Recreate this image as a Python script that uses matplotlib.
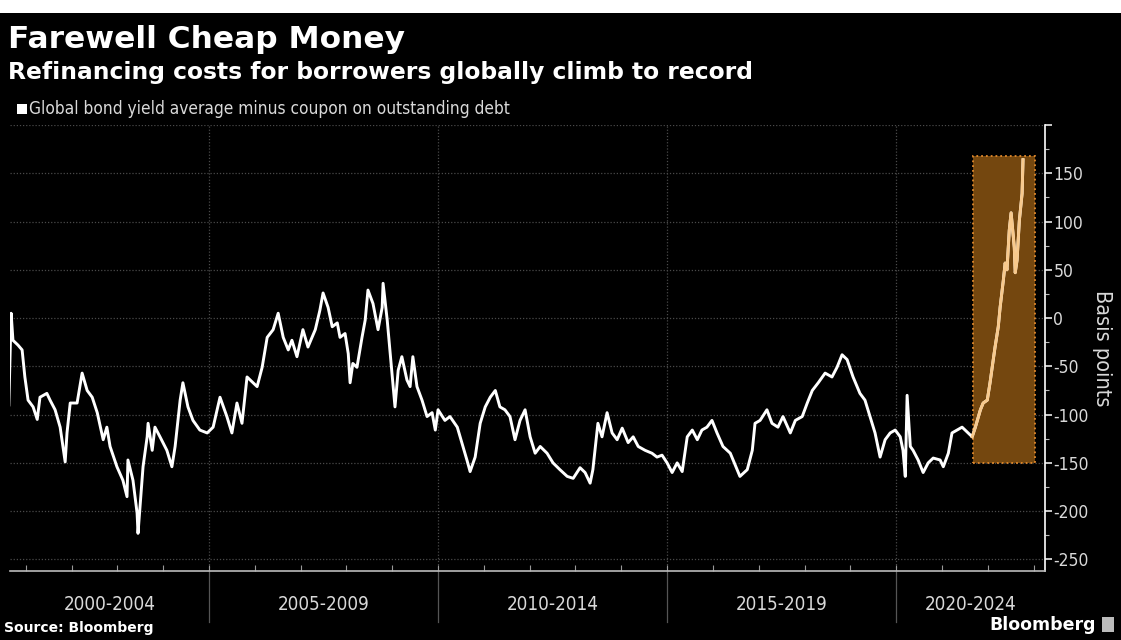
import matplotlib
matplotlib.use("Agg")
import matplotlib.pyplot as plt
import matplotlib.transforms as mtransforms
from matplotlib.patches import Rectangle
import numpy as np

# global bond yield average minus coupon on outstanding debt (bp), by decimal year
years = [
    2000.63, 2000.68, 2000.72, 2000.83, 2000.92, 2000.98, 2001.05, 2001.16, 2001.25, 2001.31,
    2001.46, 2001.53, 2001.64, 2001.75, 2001.86, 2001.90, 2001.97, 2002.12, 2002.23, 2002.34,
    2002.45, 2002.56, 2002.69, 2002.77, 2002.84, 2002.99, 2003.12, 2003.21, 2003.23, 2003.34,
    2003.43, 2003.45, 2003.56, 2003.65, 2003.67, 2003.76, 2003.82, 2003.93, 2004.08, 2004.19,
    2004.26, 2004.37, 2004.43, 2004.54, 2004.65, 2004.80, 2004.96, 2005.09, 2005.24, 2005.39,
    2005.50, 2005.61, 2005.72, 2005.83, 2005.96, 2006.05, 2006.16, 2006.27, 2006.40, 2006.51,
    2006.62, 2006.73, 2006.81, 2006.92, 2007.05, 2007.16, 2007.32, 2007.42, 2007.49, 2007.60,
    2007.69, 2007.80, 2007.86, 2007.97, 2008.04, 2008.08, 2008.14, 2008.23, 2008.34, 2008.41,
    2008.47, 2008.58, 2008.69, 2008.78, 2008.80, 2008.89, 2009.00, 2009.06, 2009.13, 2009.21,
    2009.32, 2009.39, 2009.45, 2009.54, 2009.65, 2009.76, 2009.87, 2009.94, 2010.00, 2010.15,
    2010.26, 2010.42, 2010.52, 2010.63, 2010.70, 2010.81, 2010.92, 2011.03, 2011.14, 2011.25,
    2011.35, 2011.46, 2011.57, 2011.68, 2011.79, 2011.90, 2012.01, 2012.12, 2012.23, 2012.38,
    2012.51, 2012.66, 2012.82, 2012.95, 2013.10, 2013.21, 2013.32, 2013.38, 2013.49, 2013.58,
    2013.69, 2013.80, 2013.91, 2014.02, 2014.15, 2014.26, 2014.37, 2014.52, 2014.67, 2014.78,
    2014.89, 2015.00, 2015.11, 2015.22, 2015.33, 2015.44, 2015.55, 2015.66, 2015.76, 2015.87,
    2015.98, 2016.09, 2016.22, 2016.38, 2016.53, 2016.59, 2016.75, 2016.86, 2016.92, 2017.03,
    2017.18, 2017.29, 2017.42, 2017.53, 2017.69, 2017.80, 2017.95, 2018.06, 2018.17, 2018.30,
    2018.45, 2018.60, 2018.71, 2018.82, 2018.93, 2019.06, 2019.21, 2019.32, 2019.43, 2019.54,
    2019.65, 2019.76, 2019.87, 2019.98, 2020.09, 2020.15, 2020.20, 2020.24, 2020.31, 2020.37,
    2020.48, 2020.59, 2020.70, 2020.81, 2020.96, 2021.03, 2021.14, 2021.22, 2021.33, 2021.44,
    2021.55, 2021.66, 2021.73, 2021.84, 2021.90, 2021.99, 2022.05, 2022.12, 2022.16, 2022.23,
    2022.27, 2022.34, 2022.38, 2022.42, 2022.47, 2022.51, 2022.56, 2022.58, 2022.60, 2022.64,
    2022.69, 2022.75, 2022.77,
]
spread = [
    -90, 5, -23, -28, -33, -61, -85, -92, -105, -82,
    -78, -85, -95, -113, -149, -119, -88, -88, -57, -75,
    -82, -98, -126, -113, -133, -154, -168, -185, -147, -168,
    -202, -223, -154, -123, -109, -137, -113, -123, -137, -154,
    -133, -85, -67, -92, -106, -116, -119, -113, -82, -102,
    -119, -88, -109, -61, -67, -71, -51, -20, -12, 5,
    -20, -33, -23, -40, -12, -30, -12, 8, 26, 11,
    -9, -5, -20, -16, -37, -67, -47, -51, -20, -2,
    29, 15, -12, 11, 36, -2, -61, -92, -54, -40,
    -64, -71, -40, -71, -85, -102, -98, -116, -95, -106,
    -102, -113, -129, -147, -159, -144, -109, -92, -82, -75,
    -92, -95, -102, -126, -106, -95, -123, -140, -133, -140,
    -150, -157, -164, -166, -155, -160, -171, -157, -109, -123,
    -98, -119, -126, -114, -129, -123, -133, -137, -140, -144,
    -142, -150, -160, -150, -159, -123, -116, -126, -116, -113,
    -106, -119, -133, -140, -157, -164, -157, -137, -109, -106,
    -95, -109, -113, -102, -119, -106, -102, -88, -75, -67,
    -57, -61, -51, -38, -43, -61, -78, -85, -102, -119,
    -144, -126, -119, -116, -123, -137, -164, -80, -133, -137,
    -147, -160, -150, -145, -147, -154, -140, -119, -116, -113,
    -118, -123, -113, -95, -88, -85, -67, -43, -30, -9,
    11, 39, 57, 50, 91, 109, 84, 73, 47, 60,
    101, 129, 164,
]

periods = ["2000-2004", "2005-2009", "2010-2014", "2015-2019", "2020-2024"]
period_starts = [2000, 2005, 2010, 2015, 2020]
y_ticks = [-250, -200, -150, -100, -50, 0, 50, 100, 150, 200]

highlight_start = 2021.68
highlight_end = 2023.03
highlight_low, highlight_high = -150, 168

x_min, x_max = 2000.655, 2023.25
y_min, y_max = -262, 200

cond = dict(family="DejaVu Sans", fontstretch="condensed")
txt_col = "#d9d9d9"

fig = plt.figure(figsize=(11.21, 6.40), dpi=100, facecolor="black")
ax = fig.add_axes([0.0089, 0.1078, 0.9233, 0.6969])
ax.set_facecolor("black")

# top white strip
fig.patches.append(Rectangle((0, 1 - 13 / 640), 1, 13 / 640, transform=fig.transFigure,
                             facecolor="white", edgecolor="none"))

years = np.array(years)
spread = np.array(spread)

ax.add_patch(Rectangle((highlight_start, highlight_low), highlight_end - highlight_start,
                       highlight_high - highlight_low, facecolor="#74470f",
                       edgecolor="#e0892c", linestyle=":", linewidth=1.3, zorder=1))

ax.plot(years, spread, color="white", lw=2.1, zorder=3)
hl = years >= highlight_start - 0.1
ax.plot(years[hl], spread[hl], color="#f8c98c", lw=2.1, zorder=4)

ax.set_xlim(x_min, x_max)
ax.set_ylim(y_min, y_max)

# grid
for v in y_ticks:
    ax.axhline(v, color="#4a4a4a", lw=0.9, ls=(0, (1, 1.5)), zorder=0)
for s in period_starts[1:]:
    ax.axvline(s, color="#4a4a4a", lw=0.9, ls=(0, (1, 1.5)), zorder=0)

for side in ["left", "top"]:
    ax.spines[side].set_visible(False)
ax.spines["right"].set_color("white")
ax.spines["bottom"].set_color("#bbbbbb")
ax.spines["right"].set_linewidth(1.2)
ax.spines["bottom"].set_linewidth(1.2)

ax.yaxis.tick_right()
ax.set_yticks(y_ticks)
ax.set_yticklabels([str(v) if v < 200 else "" for v in y_ticks], fontsize=12.5,
                   color=txt_col, **cond)
ax.set_yticks(np.arange(-250, 201, 25), minor=True)
ax.tick_params(axis="y", which="major", direction="out", length=5, width=1.1,
               color="white", pad=1)
ax.tick_params(axis="y", which="minor", direction="out", length=3, width=0.8,
               color="#bbbbbb")
ax.yaxis.set_label_position("right")
ax.set_ylabel("Basis points", rotation=270, fontsize=15.5, color=txt_col,
              labelpad=17, **cond)

ax.set_xticks(np.arange(2001, 2024), minor=True)
ax.set_xticks([])
ax.tick_params(axis="x", which="minor", direction="in", length=4, width=0.8,
               color="#999999")

trans = mtransforms.blended_transform_factory(ax.transData, ax.transAxes)
for s in period_starts[1:]:
    ax.plot([s, s], [0, -0.115], color="#555555", lw=0.9, transform=trans, clip_on=False)
bounds = period_starts[1:] + [x_max]
for name, a, b in zip(periods, [x_min] + period_starts[1:], bounds):
    ax.text((a + b) / 2, -0.076, name, transform=trans, ha="center", va="center",
            fontsize=13.5, color=txt_col, **cond)

fig.text(0.007, 0.938, "Farewell Cheap Money", fontsize=22.5, fontweight="bold",
         color="white", va="center")
fig.text(0.007, 0.886, "Refinancing costs for borrowers globally climb to record",
         fontsize=16.8, fontweight="bold", color="white", va="center")
fig.patches.append(Rectangle((0.0152, 0.822), 0.0085, 0.015, transform=fig.transFigure,
                             facecolor="white", edgecolor="none"))
fig.text(0.026, 0.829, "Global bond yield average minus coupon on outstanding debt",
         fontsize=12.4, color=txt_col, va="center", **cond)
fig.text(0.004, 0.008, "Source: Bloomberg", fontsize=10, fontweight="bold",
         color="white", va="bottom")
fig.text(0.978, 0.010, "Bloomberg", fontsize=12.5, fontweight="bold",
         color="white", va="bottom", ha="right")
fig.patches.append(Rectangle((0.983, 0.012), 0.011, 0.024, transform=fig.transFigure,
                             facecolor="#bbbbbb", edgecolor="none"))

fig.savefig("out.png", dpi=100, facecolor="black")
